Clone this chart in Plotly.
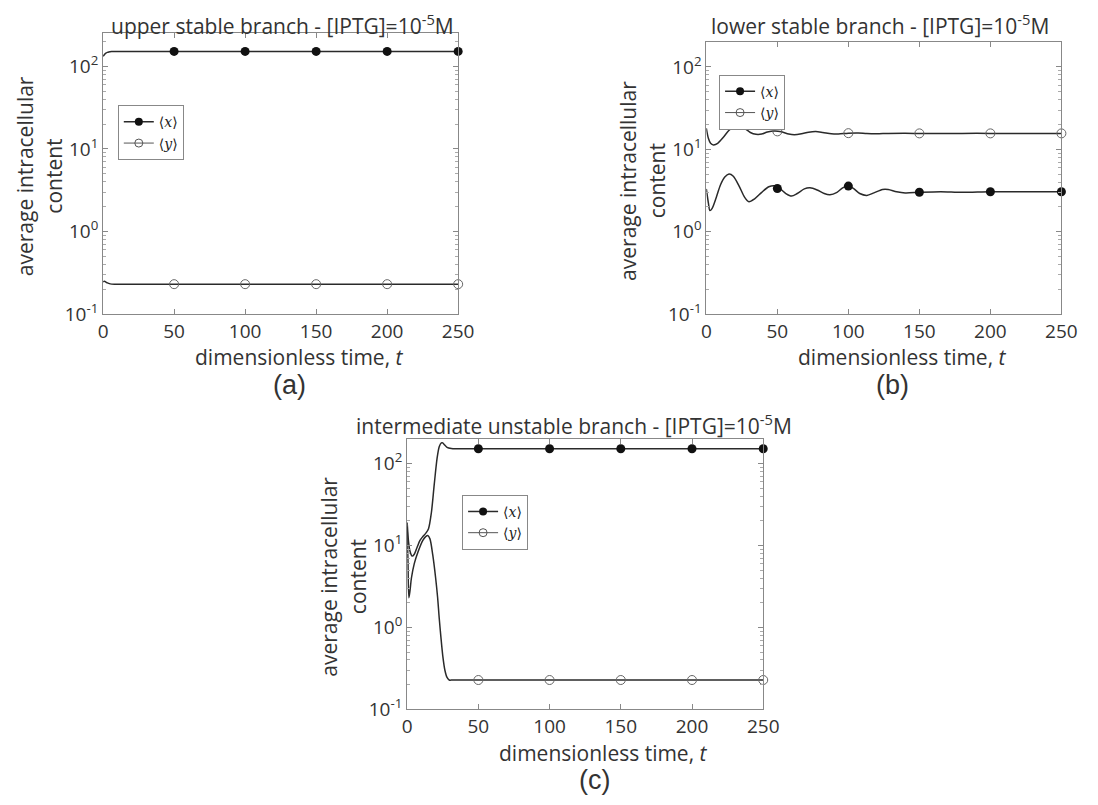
import plotly.graph_objects as go

W, H = 1098, 805

# ---------------- data ----------------
# (a) upper stable branch
a_t_x = [0, 1, 2, 3, 4, 6, 8, 12, 20, 50, 100, 150, 200, 250]
a_x = [133, 140, 145, 148, 150, 151.5, 152, 152, 152, 152, 152, 152, 152, 152]
a_t_y = [0, 1, 2, 3, 5, 8, 12, 20, 50, 100, 150, 200, 250]
a_y = [0.245, 0.248, 0.243, 0.237, 0.231, 0.229, 0.229, 0.229, 0.229, 0.229, 0.229, 0.229, 0.229]

# (b) lower stable branch
b_t_x = [0, 1.5, 2.5, 4, 7, 10, 13, 16, 19, 23, 27, 30, 34, 39, 44, 48, 52, 56, 60, 64,
         69, 73, 78, 83, 87, 92, 96, 100, 104, 108, 113, 118, 124, 128, 134, 140, 150,
         165, 180, 200, 225, 250]
b_x = [3.3, 2.2, 1.8, 1.9, 2.6, 3.7, 4.6, 5.0, 4.7, 3.6, 2.6, 2.3, 2.5, 3.0, 3.5, 3.6, 3.3,
       2.9, 2.7, 2.9, 3.3, 3.4, 3.2, 2.9, 2.8, 3.0, 3.4, 3.6, 3.3, 2.9, 2.75, 2.95, 3.25,
       3.25, 3.05, 2.95, 3.0, 3.05, 3.0, 3.05, 3.05, 3.05]
b_t_y = [0, 1.5, 3, 5, 8, 12, 16, 20, 23, 27, 31, 35, 39, 43, 48, 53, 58, 62, 67, 72, 77,
         82, 88, 93, 100, 107, 113, 120, 128, 140, 160, 180, 200, 225, 250]
b_y = [18, 13.5, 11.8, 11.3, 11.8, 14, 17, 19.2, 19.5, 18, 16, 15.2, 15.3, 16.2, 16.7,
       16.3, 15.3, 15.0, 15.4, 16.1, 16.4, 16.0, 15.4, 15.3, 15.7, 15.8, 15.5, 15.4, 15.6,
       15.7, 15.5, 15.6, 15.6, 15.6, 15.6]

# (c) intermediate unstable branch
c_t_x = [0, 1, 2, 3.5, 5, 7, 9, 11, 13, 15, 17, 19, 21, 22.5, 24, 25, 26, 28, 31, 35,
         50, 100, 150, 200, 250]
c_x = [19, 11, 8.5, 7.4, 7.8, 9.5, 11.5, 12.8, 14, 16, 25, 55, 115, 160, 178, 178, 170,
       157, 152, 151, 151, 151, 151, 151, 151]
c_t_y = [0, 0.6, 1.2, 2, 3, 5, 7.6, 11, 13, 14.5, 16, 18, 20, 21.4, 22.5, 23.7, 25, 26.5,
         28, 29.5, 32, 50, 100, 150, 200, 250]
c_y = [17, 6, 2.3, 2.8, 4, 6, 8.3, 11.5, 12.8, 13.2, 12, 7.6, 4, 2.3, 1.3, 0.76, 0.45,
       0.30, 0.245, 0.228, 0.228, 0.228, 0.228, 0.228, 0.228, 0.228]

# markers
mark_t = [50, 100, 150, 200, 250]
a_mx = [152, 152, 152, 152, 152]
a_my = [0.229, 0.229, 0.229, 0.229, 0.229]
b_mx = [3.34, 3.57, 3.0, 3.05, 3.05]
b_my = [16.5, 15.7, 15.6, 15.6, 15.6]
c_mx = [151, 151, 151, 151, 151]
c_my = [0.228, 0.228, 0.228, 0.228, 0.228]

x_ticks = [0, 50, 100, 150, 200, 250]
y_ticks = [0.1, 1, 10, 100]
y_ticktext = ["10<sup>-1</sup>", "10<sup>0</sup>", "10<sup>1</sup>", "10<sup>2</sup>"]
y_minor = [k * 10 ** e for e in (-1, 0, 1) for k in range(2, 10)] + [200]

titles = ["upper stable branch - [IPTG]=10<sup>-5</sup>M",
          "lower stable branch - [IPTG]=10<sup>-5</sup>M",
          "intermediate unstable branch - [IPTG]=10<sup>-5</sup>M"]
panel_labels = ["(a)", "(b)", "(c)"]
legend_names = ["\u27e8<i>x</i>\u27e9", "\u27e8<i>y</i>\u27e9"]

# ---------------- layout geometry (pixels) ----------------
panels = [
    dict(x0=100, x1=462, y0=34, y1=319, ytop=2.4),
    dict(x0=715, x1=1077, y0=43, y1=319, ytop=2.3),
    dict(x0=410, x1=773, y0=446, y1=721, ytop=2.3),
]
title_pos = [(283, 25), (892, 25), (580, 431)]
legend_pos = [(115, 107), (728, 76), (466, 503)]

LINE = "#2a2a2a"
FONT = "Open Sans"

fig = go.Figure()
series = [
    (a_t_x, a_x, a_t_y, a_y, a_mx, a_my),
    (b_t_x, b_x, b_t_y, b_y, b_mx, b_my),
    (c_t_x, c_x, c_t_y, c_y, c_mx, c_my),
]
for i, (tx, vx, ty, vy, mx, my) in enumerate(series):
    xa = "x" if i == 0 else f"x{i+1}"
    ya = "y" if i == 0 else f"y{i+1}"
    lg = "legend" if i == 0 else f"legend{i+1}"
    fig.add_trace(go.Scatter(x=tx, y=vx, mode="lines", line=dict(color=LINE, width=1.5, shape="spline", smoothing=0.8),
                             xaxis=xa, yaxis=ya, showlegend=False))
    fig.add_trace(go.Scatter(x=ty, y=vy, mode="lines", line=dict(color=LINE, width=1.5, shape="spline", smoothing=0.8),
                             xaxis=xa, yaxis=ya, showlegend=False))
    fig.add_trace(go.Scatter(x=mark_t, y=mx, mode="markers", marker=dict(symbol="circle", size=9, color="#111"),
                             xaxis=xa, yaxis=ya, showlegend=False, cliponaxis=False))
    fig.add_trace(go.Scatter(x=mark_t, y=my, mode="markers",
                             marker=dict(symbol="circle-open", size=9, color="#666", line=dict(width=1)),
                             xaxis=xa, yaxis=ya, showlegend=False, cliponaxis=False))
    # legend entries
    fig.add_trace(go.Scatter(x=[None], y=[None], mode="lines+markers", name=legend_names[0],
                             line=dict(color=LINE, width=1.5), marker=dict(symbol="circle", size=8, color="#111"),
                             xaxis=xa, yaxis=ya, legend=lg))
    fig.add_trace(go.Scatter(x=[None], y=[None], mode="lines+markers", name=legend_names[1],
                             line=dict(color="#555", width=1), marker=dict(symbol="circle-open", size=8, color="#555"),
                             xaxis=xa, yaxis=ya, legend=lg))

layout = dict(width=W, height=H, margin=dict(l=0, r=0, t=0, b=0), paper_bgcolor="white",
              plot_bgcolor="white", font=dict(family=FONT, color="#333", size=19))
annotations = []
for i, p in enumerate(panels):
    sx = "" if i == 0 else str(i + 1)
    layout["xaxis" + sx] = dict(domain=[p["x0"] / W, p["x1"] / W], range=[0, 250], anchor="y" + sx,
                                tickvals=x_ticks, ticks="inside", ticklen=5, tickcolor="#888",
                                showline=True, linecolor="#888", linewidth=1, mirror="ticks",
                                showgrid=False, zeroline=False, tickfont=dict(size=19, color="#333"))
    layout["yaxis" + sx] = dict(domain=[1 - p["y1"] / H, 1 - p["y0"] / H], type="log", range=[-1, p["ytop"]],
                                anchor="x" + sx, tickvals=y_ticks, ticktext=y_ticktext, ticks="inside",
                                ticklen=5, tickcolor="#888", showline=True, linecolor="#888", linewidth=1,
                                mirror="ticks", showgrid=False, zeroline=False,
                                tickfont=dict(size=19, color="#333"),
                                minor=dict(tickmode="array", tickvals=y_minor, ticks="inside", ticklen=3,
                                           tickcolor="#aaa"))
    lx, ly = legend_pos[i]
    layout["legend" if i == 0 else f"legend{i+1}"] = dict(
        x=lx / W, y=1 - ly / H, xanchor="left", yanchor="top", bgcolor="white",
        bordercolor="#888", borderwidth=1, itemwidth=30, tracegroupgap=0,
        font=dict(family="DejaVu Serif", size=14, color="#222"))
    tx, ty = title_pos[i]
    annotations.append(dict(text=titles[i], x=tx / W, y=1 - ty / H, xref="paper", yref="paper",
                            showarrow=False, xanchor="center", yanchor="middle",
                            font=dict(family=FONT, size=21, color="#333")))
    cx = (p["x0"] + p["x1"]) / 2 + 19
    annotations.append(dict(text="dimensionless time, <i>t</i>", x=cx / W, y=1 - (p["y1"] + 44) / H,
                            xref="paper", yref="paper", showarrow=False, xanchor="center", yanchor="middle",
                            font=dict(family=FONT, size=21, color="#333")))
    annotations.append(dict(text=panel_labels[i], x=(cx - 10) / W, y=1 - (p["y1"] + 72) / H,
                            xref="paper", yref="paper", showarrow=False, xanchor="center", yanchor="middle",
                            font=dict(family="Liberation Sans", size=27, color="#333")))
    cy = (p["y0"] + p["y1"]) / 2 + 3
    annotations.append(dict(text="average intracellular", x=(p["x0"] - 80) / W, y=1 - cy / H,
                            xref="paper", yref="paper", showarrow=False, textangle=-90,
                            xanchor="center", yanchor="middle", font=dict(family=FONT, size=21, color="#333")))
    annotations.append(dict(text="content", x=(p["x0"] - 50) / W, y=1 - cy / H,
                            xref="paper", yref="paper", showarrow=False, textangle=-90,
                            xanchor="center", yanchor="middle", font=dict(family=FONT, size=21, color="#333")))
layout["annotations"] = annotations
fig.update_layout(**layout)
fig.write_html("out.html")
